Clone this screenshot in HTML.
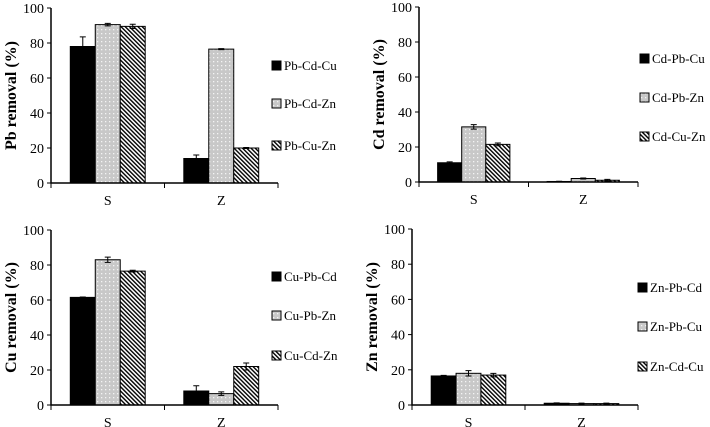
<!DOCTYPE html>
<html><head><meta charset="utf-8"><style>
body{margin:0;background:#fff;}
svg{display:block;font-family:"Liberation Serif",serif;}
</style></head><body>
<svg id="c" width="710" height="427" viewBox="0 0 710 427">
<defs>
<pattern id="dots" width="4" height="4" patternUnits="userSpaceOnUse"><rect width="4" height="4" fill="#c8c8c8"/><rect x="1" y="1" width="1.3" height="1.3" fill="#f4f4f4"/></pattern>
<pattern id="hatch" width="3" height="3" patternUnits="userSpaceOnUse" patternTransform="rotate(-45)"><rect width="3" height="3" fill="#fff"/><rect width="1.4" height="3" fill="#000"/></pattern>
</defs>
</svg>
<script>
const categories=["S","Z"];
const pbSeries=["Pb-Cd-Cu","Pb-Cd-Zn","Pb-Cu-Zn"];
const pbValues=[[78,14],[90.5,76.5],[89.5,20]];
const pbErr=[[5.5,2],[0.7,0.3],[1.2,0.3]];
const cdSeries=["Cd-Pb-Cu","Cd-Pb-Zn","Cd-Cu-Zn"];
const cdValues=[[11,0.3],[31.5,2],[21.5,1]];
const cdErr=[[0.5,0.1],[1.3,0.3],[0.8,0.5]];
const cuSeries=["Cu-Pb-Cd","Cu-Pb-Zn","Cu-Cd-Zn"];
const cuValues=[[61.5,8],[83,6.5],[76.5,22]];
const cuErr=[[0.2,3],[1.5,1],[0.5,2]];
const znSeries=["Zn-Pb-Cd","Zn-Pb-Cu","Zn-Cd-Cu"];
const znValues=[[16.5,1],[18,0.8],[17,0.8]];
const znErr=[[0.3,0.2],[1.5,0.3],[1,0.3]];
const yTicks=[0,20,40,60,80,100];
const panels=[
 {t:"Pb removal (%)",s:pbSeries,v:pbValues,e:pbErr,x0:51,x1:278,y0:183,y1:8,lx:272,ly:[66,104,146],n:"pb"},
 {t:"Cd removal (%)",s:cdSeries,v:cdValues,e:cdErr,x0:419,x1:638,y0:182,y1:7,lx:640,ly:[59,98,137],n:"cd"},
 {t:"Cu removal (%)",s:cuSeries,v:cuValues,e:cuErr,x0:51,x1:278,y0:405,y1:230,lx:272,ly:[277,316,356],n:"cu"},
 {t:"Zn removal (%)",s:znSeries,v:znValues,e:znErr,x0:412,x1:638,y0:405,y1:229,lx:638,ly:[288,327,367],n:"zn"}
];
const fills=["#000","url(#dots)","url(#hatch)"];
const svg=document.getElementById('c');
function mk(tag,a,txt){const el=document.createElementNS("http://www.w3.org/2000/svg",tag);for(const k in a)el.setAttribute(k,a[k]);if(txt!==undefined)el.textContent=txt;svg.appendChild(el);return el;}
panels.forEach(p=>{
 const y=v=>p.y0-(v/100)*(p.y0-p.y1);
 const gw=(p.x1-p.x0)/2;
 const bw=gw*0.22, off=gw*0.17;
 p.v.forEach((ser,si)=>{ser.forEach((val,ci)=>{
  const bx=p.x0+ci*gw+off+si*bw;
  const r=mk('rect',{x:bx,y:y(val),width:bw,height:p.y0-y(val),fill:fills[si],stroke:'#000','stroke-width':1});
  
  
  const er=p.e[si][ci],cx=bx+bw/2;
  const eb=mk('path',{d:`M${cx},${y(val+er)}V${y(Math.max(0,val-er))}M${cx-3},${y(val+er)}h6M${cx-3},${y(Math.max(0,val-er))}h6`,stroke:'#000','stroke-width':1,fill:'none'});
  
  
 });});
 const ax=mk('path',{d:`M${p.x0},${p.y1}V${p.y0}H${p.x1}`,stroke:'#000','stroke-width':1.5,fill:'none'});
 
 
 yTicks.forEach(t=>{
  mk('line',{x1:p.x0-4,x2:p.x0,y1:y(t),y2:y(t),stroke:'#000'});
  const tl=mk('text',{x:p.x0-7,y:y(t)+5,'text-anchor':'end','font-size':14},t);
  
  
 });
 [0,1,2].forEach(i=>mk('line',{x1:p.x0+i*gw,x2:p.x0+i*gw,y1:p.y0,y2:p.y0+5,stroke:'#000'}));
 categories.forEach((c,i)=>{
  const cl=mk('text',{x:p.x0+gw*(i+0.5),y:p.y0+22,'text-anchor':'middle','font-size':14},c);
  
  
 });
 const ty=(p.y0+p.y1)/2;
 const tt=mk('text',{x:0,y:0,transform:`translate(${p.x0-35},${ty}) rotate(-90)`,'text-anchor':'middle','font-size':16,'font-weight':'bold'},p.t);
 
 
 p.s.forEach((s,i)=>{
  const sw=mk('rect',{x:p.lx,y:p.ly[i]-5,width:9,height:9,fill:fills[i],stroke:'#000'});
  
  
  const lt=mk('text',{x:p.lx+12,y:p.ly[i]+4,'font-size':13},s);
  
  
 });
});
</script>
</body></html>
